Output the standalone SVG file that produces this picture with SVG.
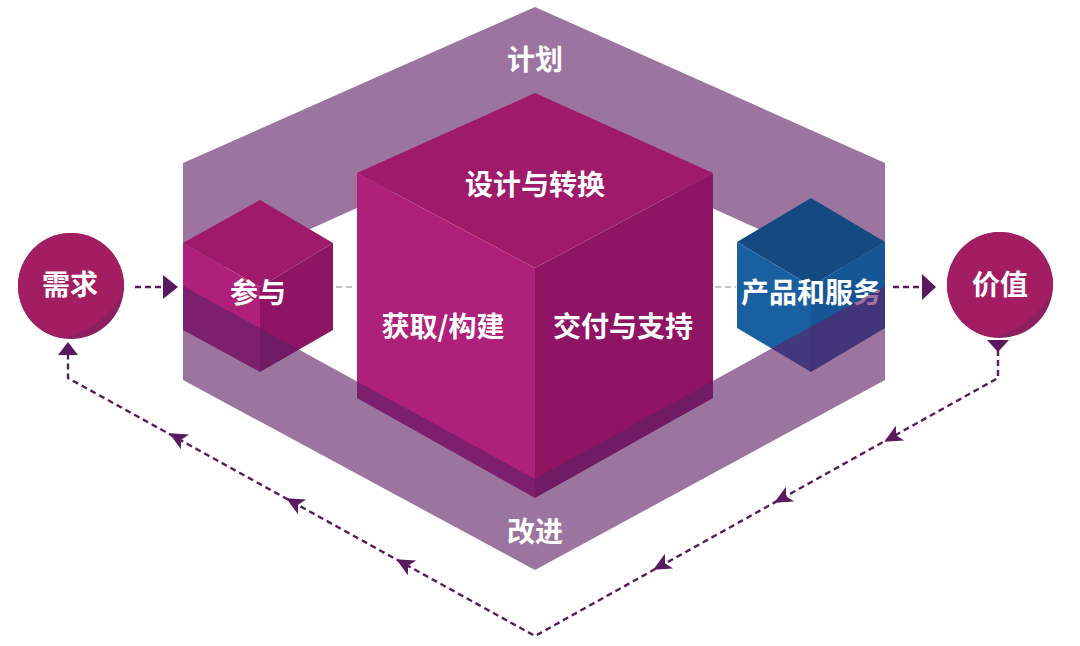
<svg xmlns="http://www.w3.org/2000/svg" width="1080" height="646" viewBox="0 0 1080 646">
  <style>
    .band { fill: #5e2166; fill-opacity: 0.62; }
    .lbl { font-family: "Noto Sans CJK SC", "Noto Sans", sans-serif; font-weight: 700; font-size: 28px; fill: #ffffff; text-anchor: middle; dominant-baseline: central; }
    .mtop { fill: #a01a6b; }
    .mleft { fill: #ae2079; }
    .mright { fill: #8f1463; }
    .btop { fill: #144a82; }
    .bleft { fill: #1a5fa0; }
    .bright { fill: #165596; }
    .dash { fill: none; stroke: #5b1a5f; stroke-width: 2.4; stroke-dasharray: 6 4; }
    .gdash { fill: none; stroke: #c4c4c4; stroke-width: 2; stroke-dasharray: 6 4; }
    .head { fill: #5b1a5f; }
  </style>
  <defs>
    <path id="stealth" d="M10,0 L-8,-8.5 L-3.5,0 L-8,8.5 Z"/>
    <clipPath id="clipL"><circle cx="71" cy="286" r="53"/></clipPath>
    <clipPath id="clipR"><circle cx="1000" cy="285" r="53"/></clipPath>
  </defs>

  <rect width="1080" height="646" fill="#ffffff"/>

  <!-- top band (plan), behind cubes -->
  <g id="band-plan">
    <polygon class="band" points="183,163 535,7 885,163 885,286 535,128 183,286"/>
  </g>

  <!-- gray connectors behind cubes -->
  <g id="connectors-inner">
    <line class="gdash" x1="336" y1="287" x2="356" y2="287"/>
    <line class="gdash" x1="715" y1="287" x2="736" y2="287"/>
  </g>

  <g id="node-engage">
    <polygon class="mtop" points="260,200 333,243 260,287 183,243"/>
    <polygon class="mleft" points="183,243 260,287 260,372 183,330"/>
    <polygon class="mright" points="260,287 333,243 333,330 260,372"/>
    <text class="lbl" x="258" y="291">参与</text>
  </g>

  <g id="node-core">
    <polygon class="mtop" points="535,93 713,173 535,268 357,173"/>
    <polygon class="mleft" points="357,173 535,268 535,498 357,398"/>
    <polygon class="mright" points="535,268 713,173 713,398 535,498"/>
    <text class="lbl" x="535" y="183">设计与转换</text>
    <text class="lbl" x="443" y="325">获取/构建</text>
    <text class="lbl" x="623" y="325">交付与支持</text>
  </g>

  <g id="node-products">
    <polygon class="btop" points="811,198 885,242 811,286 737,242"/>
    <polygon class="bleft" points="737,242 811,286 811,372 737,328"/>
    <polygon class="bright" points="811,286 885,242 885,328 811,372"/>
    <text class="lbl" x="811" y="291">产品和服务</text>
  </g>

  <!-- bottom band (improve), in front of cubes -->
  <g id="band-improve">
    <polygon class="band" points="183,286 535,479 885,286 885,380 535,570 183,380"/>
  </g>

  <g id="band-labels">
    <text class="lbl" x="535" y="58">计划</text>
    <text class="lbl" x="535" y="530">改进</text>
  </g>

  <g id="node-demand">
    <circle cx="71" cy="286" r="53" fill="#8b1f5f"/>
    <circle cx="46" cy="254" r="86" fill="#a31d63" clip-path="url(#clipL)"/>
    <text class="lbl" x="70" y="283">需求</text>
  </g>

  <g id="node-value">
    <circle cx="1000" cy="285" r="53" fill="#8b1f5f"/>
    <circle cx="975" cy="253" r="86" fill="#a31d63" clip-path="url(#clipR)"/>
    <text class="lbl" x="1000" y="283">价值</text>
  </g>

  <g id="connectors">
    <line class="dash" x1="135" y1="287" x2="163" y2="287"/>
    <polygon class="head" points="163,275 178,287 163,299"/>
    <line class="dash" x1="893" y1="287" x2="922" y2="287"/>
    <polygon class="head" points="922,274 936,287 922,300"/>

    <path class="dash" d="M998,350 L998,378 L535,636 L68,378 L68,354"/>
    <polygon class="head" points="987,340 1009,340 998,352"/>
    <polygon class="head" points="68,342 78,355 58,355"/>

    <use href="#stealth" class="head" transform="translate(893,437) rotate(151.1)"/>
    <use href="#stealth" class="head" transform="translate(783,498) rotate(151.1)"/>
    <use href="#stealth" class="head" transform="translate(662,565) rotate(151.1)"/>
    <use href="#stealth" class="head" transform="translate(405,564) rotate(208.8)"/>
    <use href="#stealth" class="head" transform="translate(295,503) rotate(208.8)"/>
    <use href="#stealth" class="head" transform="translate(178,438) rotate(208.8)"/>
  </g>
</svg>
